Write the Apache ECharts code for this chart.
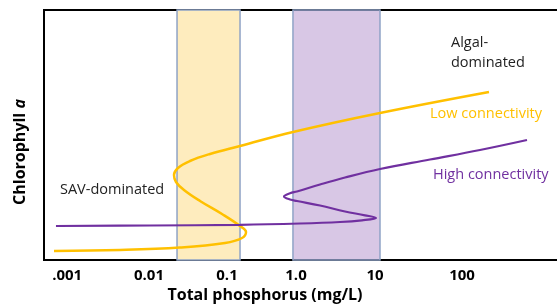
<!DOCTYPE html>
<html>
<head>
<meta charset="utf-8">
<script src="https://cdn.jsdelivr.net/npm/echarts@6/dist/echarts.min.js"></script>
<style>html,body{margin:0;padding:0;background:#fff;}#c{width:557px;height:308px;}</style>
</head>
<body>
<div id="c"></div>
<script>
// x values are log10(total phosphorus) on the schematic's own scale; y is relative chlorophyll a
const tickLabels = ['.001', '0.01', '0.1', '1.0', '10', '100'];
const tickValues = [-3.01, -1.985, -1.008, -0.144, 0.845, 1.935];

const lowX = [-3.175,-2.348,-1.597,-1.033,-0.820,-0.770,-0.845,-1.071,-1.346,-1.547,-1.647,-1.672,-1.622,-1.472,-1.221,-0.845,-0.182,0.908,2.273];
const lowY = [3.6,4.0,5.0,6.8,8.8,11.2,13.6,18.4,23.6,28.0,31.2,34.0,36.8,39.6,42.4,45.6,51.2,58.8,67.2];

const highX = [-3.150,-1.973,-0.845,-0.094,0.407,0.682,0.858,0.720,0.470,0.157,-0.132,-0.219,-0.294,-0.219,-0.132,0.157,0.470,0.908,1.534,2.160,2.749];
const highY = [13.6,13.8,14.08,14.6,15.2,15.88,16.8,17.88,19.4,21.8,23.6,24.2,25.4,26.7,27.4,30.2,33.0,36.4,40.2,44.0,48.0];

const lowBand = [-1.634, -0.845];
const highBand = [-0.182, 0.908];

const zip = (xs, ys) => xs.map((x, i) => [x, ys[i]]);

const chart = echarts.init(document.getElementById('c'));
const FONT = 'Open Sans';
chart.setOption({
  animation: false,
  backgroundColor: '#fff',
  grid: { left: 44, right: -10, top: 10, bottom: 48, outerBoundsMode: 'none', containLabel: false,
    show: true, borderColor: '#000', borderWidth: 2, backgroundColor: 'transparent' },
  xAxis: {
    type: 'value', min: -3.3, max: 3.25,
    axisLine: { show: false }, axisTick: { show: false }, splitLine: { show: false },
    axisLabel: {
      customValues: tickValues, margin: 8,
      formatter: v => { const i = tickValues.indexOf(v); return i >= 0 ? tickLabels[i] : ''; },
      color: '#000', fontWeight: 'bold', fontSize: 15, fontFamily: FONT
    }
  },
  yAxis: {
    type: 'value', min: 0, max: 100,
    axisLine: { show: false }, axisTick: { show: false }, splitLine: { show: false }, axisLabel: { show: false }
  },
  series: [
    { type: 'line', data: [], z: 1, silent: true,
      markArea: { silent: true, itemStyle: { color: '#FEECBE', borderColor: '#8FA3C6', borderWidth: 1.5 },
        data: [[{ xAxis: lowBand[0] }, { xAxis: lowBand[1] }]] } },
    { type: 'line', name: 'Low connectivity', data: zip(lowX, lowY), z: 2, smooth: 0.4, showSymbol: false,
      lineStyle: { color: '#FFC000', width: 2.5 } },
    { type: 'line', name: 'High connectivity', data: zip(highX, highY), z: 2, smooth: 0.4, showSymbol: false,
      lineStyle: { color: '#7030A0', width: 2.2 } },
    { type: 'line', data: [], z: 3, silent: true,
      markArea: { silent: true, itemStyle: { color: 'rgba(112,48,160,0.27)', borderColor: '#8FA3C6', borderWidth: 1.5 },
        data: [[{ xAxis: highBand[0] }, { xAxis: highBand[1] }]] } }
  ],
  graphic: [
    { type: 'text', x: 60, y: 190, style: { text: 'SAV-dominated', font: '14.5px "Open Sans"', fill: '#222', textVerticalAlign: 'middle' } },
    { type: 'text', x: 451, y: 33, style: { text: 'Algal-\ndominated', font: '14.5px "Open Sans"', lineHeight: 20, fill: '#222' } },
    { type: 'text', x: 430, y: 114, style: { text: 'Low connectivity', font: '14.5px "Open Sans"', fill: '#FFC000', textVerticalAlign: 'middle' } },
    { type: 'text', x: 433, y: 175, style: { text: 'High connectivity', font: '14.5px "Open Sans"', fill: '#7030A0', textVerticalAlign: 'middle' } },
    { type: 'text', x: 265, y: 295, style: { text: 'Total phosphorus (mg/L)', font: 'bold 16px "Open Sans"', fill: '#000', textAlign: 'center', textVerticalAlign: 'middle' } },
    { type: 'text', x: 20, y: 152, rotation: Math.PI / 2,
      style: { text: '{b|Chlorophyll }{i|a}', textAlign: 'center', textVerticalAlign: 'middle', fill: '#000',
        rich: { b: { font: 'bold 16px "Open Sans"', fill: '#000' }, i: { font: 'italic bold 16px "Open Sans"', fill: '#000' } } } }
  ]
});
</script>
</body>
</html>
